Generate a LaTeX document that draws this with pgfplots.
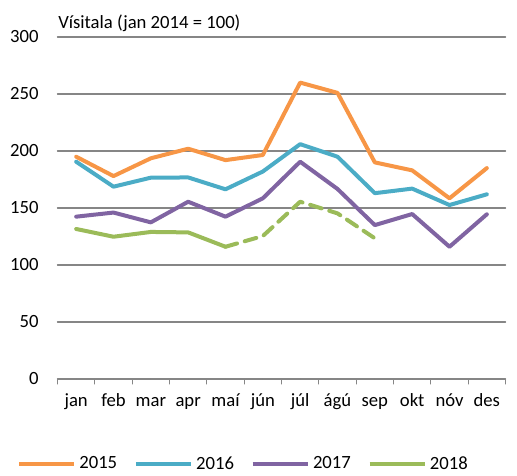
\documentclass[border=0pt]{standalone}
\usepackage{pgfplots}
\pgfplotsset{compat=1.18}
\usepackage{fontspec}
\setmainfont{Carlito}
\definecolor{c15}{RGB}{247,150,70}
\definecolor{c16}{RGB}{75,172,198}
\definecolor{c17}{RGB}{128,100,162}
\definecolor{c18}{RGB}{155,187,89}
\definecolor{gridgray}{RGB}{134,134,134}
\begin{document}
\begin{tikzpicture}
\useasboundingbox (0,0) rectangle (387.75pt,356.25pt);
\begin{axis}[
  at={(43.125pt,72pt)}, anchor=south west,
  width=336pt, height=256.5pt, scale only axis,
  xmin=0.5, xmax=12.5, ymin=0, ymax=300,
  font=\fontsize{14}{16}\selectfont,
  /pgf/number format/assume math mode=true,
  axis line style={draw=none},
  xtick={1,...,12},
  xticklabels={jan,feb,mar,apr,maí,jún,júl,ágú,sep,okt,nóv,des},
  minor xtick={0.5,1.5,...,12.5},
  ytick={0,50,...,300},
  xtick pos=bottom, ytick pos=left,
  tick align=outside,
  major tick length=0pt,
  minor tick length=3.75pt,
  every minor tick/.style={gridgray, line width=0.75pt},
  y tick style={draw=none},
  ymajorgrids,
  grid style={gridgray, line width=1pt},
  yticklabel style={anchor=east, inner sep=0pt, xshift=-14pt},
  xticklabel style={anchor=base, inner sep=0pt, yshift=-20.5pt},
  line cap=round, line join=round,
  legend columns=4,
  legend cell align=left,
  legend image code/.code={\draw[#1, line width=3pt, solid] (0pt,0pt) -- (41.25pt,0pt);},
  legend style={at={(rel axis cs:-0.0904,-0.2477)}, anchor=west, draw=none, fill=none,
    inner sep=0pt, outer sep=0pt, nodes={inner sep=0pt},
    /tikz/every odd column/.append style={column sep=2.5pt},
    /tikz/every even column/.append style={column sep=12.5pt}},
]
\addplot[c15, line width=3pt] coordinates {
 (1,195) (2,178) (3,193.6) (4,202) (5,192) (6,196.5) (7,260) (8,251) (9,190) (10,183) (11,158.5) (12,185)};
\addlegendentry{2015}
\addplot[c16, line width=3pt] coordinates {
 (1,190.6) (2,168.7) (3,176.6) (4,176.8) (5,166.4) (6,182) (7,206) (8,195) (9,163) (10,167) (11,152.6) (12,162)};
\addlegendentry{2016}
\addplot[c17, line width=3pt] coordinates {
 (1,142.4) (2,146) (3,137.4) (4,155.5) (5,142.4) (6,158.5) (7,190.6) (8,166.7) (9,135) (10,144.7) (11,116) (12,144.5)};
\addlegendentry{2017}
\addplot[c18, line width=3pt] coordinates {
 (1,131.6) (2,124.8) (3,129) (4,128.6) (5,116)};
\addlegendentry{2018}
\addplot[c18, line width=3pt, dash pattern=on 9pt off 6pt, forget plot] coordinates {
 (5,116) (6,125.4) (7,155.5) (8,145.3) (9,123.4)};
\end{axis}
\node[anchor=base west, inner sep=0pt, font=\fontsize{14}{16}\selectfont] at (43.5pt,335pt) {Vísitala (jan 2014 = 100)};
\end{tikzpicture}
\end{document}
